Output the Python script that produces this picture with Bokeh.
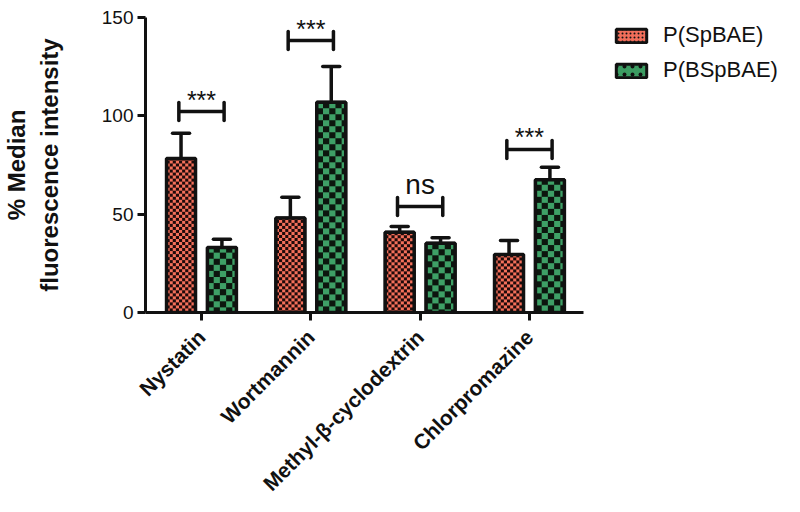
import numpy as np
from bokeh.plotting import figure
from bokeh.models import Legend, LegendItem, FixedTicker
from bokeh.core.properties import value
from bokeh.embed import file_html
from bokeh.resources import INLINE

# ---------------- data ----------------
categories = ["Nystatin", "Wortmannin", "Methyl-\u03b2-cyclodextrin", "Chlorpromazine"]
series_names = ["P(SpBAE)", "P(BSpBAE)"]
spbae_mean = [78.3, 48.1, 40.8, 29.5]
spbae_err = [12.8, 10.5, 2.9, 7.1]
bspbae_mean = [33.0, 106.9, 35.2, 67.5]
bspbae_err = [4.3, 18.2, 2.8, 6.4]
sig_labels = ["***", "***", "ns", "***"]
sig_y = [102.2, 138.3, 53.9, 82.9]
y_ticks = [0, 50, 100, 150]

# ---------------- layout ----------------
W, H = 792, 510
BL, BT = 145, 17
BB = H - 312
FW, FH = W - BL, H - BT - BB
PPX = 109.33           # pixels per category step
X0 = -0.512
X_AXIS_END = 3.494
X1 = X0 + FW / PPX
Y0, Y1 = 0, 150
ppy = FH / (Y1 - Y0)
OFF = 0.187
BW = 0.265
FONT = "Liberation Sans"

p = figure(width=W, height=H, x_range=(X0, X1), y_range=(Y0, Y1),
           output_backend="svg", toolbar_location=None,
           min_border_left=BL, min_border_right=0,
           min_border_top=BT, min_border_bottom=BB)
p.outline_line_color = None
p.xgrid.visible = False
p.ygrid.visible = False


def checker(rows, cols, cell, c1, c2):
    arr = np.zeros((rows, cols), dtype=np.uint32)
    view = arr.view(dtype=np.uint8).reshape((rows, cols, 4))
    r = (np.arange(rows)[::-1][:, None] // cell)
    c = (np.arange(cols)[None, :] // cell)
    mask = ((r + c) % 2) == 0
    for k in range(3):
        view[:, :, k] = np.where(mask, c1[k], c2[k])
    view[:, :, 3] = 255
    return arr


styles = [
    dict(fill="#f26e5a", c1=(244, 112, 90), c2=(30, 10, 10), cell=3,
         hatch="dot", hscale=4, hweight=2),
    dict(fill="#3c9c62", c1=(62, 160, 102), c2=(12, 22, 14), cell=6,
         hatch="dot", hscale=8, hweight=4),
]
means = [spbae_mean, bspbae_mean]
errs = [spbae_err, bspbae_err]
xs = list(range(len(categories)))

legend_items = []
for s, (m, e, st) in enumerate(zip(means, errs, styles)):
    sign = -1 if s == 0 else 1
    bx = [x + sign * OFF for x in xs]
    r = p.vbar(x=bx, top=m, bottom=0, width=BW, fill_color=st["fill"],
               line_color="#111111", line_width=3,
               hatch_pattern=st["hatch"], hatch_color="#111111",
               hatch_scale=st["hscale"], hatch_weight=st["hweight"])
    legend_items.append(LegendItem(label=series_names[s], renderers=[r]))
    imgs = []
    for v in m:
        rows = max(1, int(round(v * ppy)))
        cols = max(1, int(round(BW * PPX)))
        imgs.append(checker(rows, cols, st["cell"], st["c1"], st["c2"]))
    p.image_rgba(image=imgs, x=[x - BW / 2 for x in bx], y=[0] * len(bx),
                 dw=[BW] * len(bx), dh=m)
    p.vbar(x=bx, top=m, bottom=0, width=BW, fill_alpha=0,
           line_color="#111111", line_width=3.5)
    tops = [a + b for a, b in zip(m, e)]
    p.segment(x0=bx, x1=bx, y0=m, y1=tops, line_color="#111111", line_width=3.5)
    cap = 8.5 / PPX
    p.segment(x0=[x - cap for x in bx], x1=[x + cap for x in bx], y0=tops, y1=tops,
              line_color="#111111", line_width=3.5, line_cap="round")

# significance brackets
capy = 9 / ppy
bl = [x - OFF - 0.02 for x in xs]
br = [x + OFF + 0.02 for x in xs]
p.segment(x0=bl, x1=br, y0=sig_y, y1=sig_y, line_color="#111111", line_width=3.5)
p.segment(x0=bl, x1=bl, y0=[y - capy for y in sig_y], y1=[y + capy for y in sig_y],
          line_color="#111111", line_width=3.5, line_cap="round")
p.segment(x0=br, x1=br, y0=[y - capy for y in sig_y], y1=[y + capy for y in sig_y],
          line_color="#111111", line_width=3.5, line_cap="round")
for x, y, lab in zip(xs, sig_y, sig_labels):
    if lab == "ns":
        p.text(x=[x], y=[y], text=[lab], text_align="center",
               text_baseline="alphabetic", text_font=value(FONT),
               text_font_size="28px", y_offset=-22, text_color="#111111")
    else:
        p.text(x=[x], y=[y], text=[lab], text_align="center",
               text_baseline="alphabetic", text_font=value(FONT),
               text_font_size="25px", y_offset=-12, text_color="#111111")

# axes
for ax in (p.xaxis[0], p.yaxis[0]):
    ax.axis_line_width = 3
    ax.axis_line_color = "#111111"
    ax.major_tick_line_width = 3
    ax.major_tick_line_color = "#111111"
    ax.major_tick_out = 8
    ax.major_tick_in = 0
    ax.minor_tick_line_color = None
    ax.major_label_text_font = FONT
    ax.major_label_text_color = "#111111"

p.yaxis.ticker = FixedTicker(ticks=y_ticks)
p.yaxis.major_label_text_font_size = "19px"
p.yaxis.major_label_standoff = 4
p.yaxis.axis_label = "% Median\nfluorescence intensity"
p.yaxis.axis_label_text_font = FONT
p.yaxis.axis_label_text_font_size = "24px"
p.yaxis.axis_label_text_font_style = "bold"
p.yaxis.axis_label_text_color = "#111111"
p.yaxis.axis_label_standoff = 36

p.xaxis.bounds = (X0, X_AXIS_END)
p.xaxis.ticker = FixedTicker(ticks=xs)
p.xaxis.major_label_overrides = {i: c for i, c in zip(xs, categories)}
p.xaxis.major_label_orientation = np.pi / 4
p.xaxis.major_label_text_font_size = "21px"
p.xaxis.major_label_text_font_style = "bold"
p.xaxis.major_label_standoff = 13

legend = Legend(items=legend_items, location=(467, 229),
                glyph_width=38, glyph_height=17, label_standoff=13,
                label_text_font=FONT, label_text_font_size="22px",
                label_text_color="#111111", label_height=17,
                spacing=9, padding=0, margin=0,
                border_line_alpha=0, background_fill_alpha=0)
p.add_layout(legend)

open("out.html", "w").write(file_html(p, INLINE))
